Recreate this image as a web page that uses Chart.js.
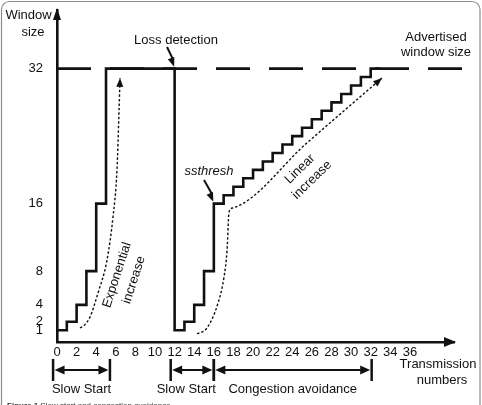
<!DOCTYPE html>
<html>
<head>
<meta charset="utf-8">
<title>Slow start and congestion avoidance</title>
<script src="https://cdn.jsdelivr.net/npm/chart.js@4.4.1/dist/chart.umd.min.js"></script>
<style>
    body { margin: 0; background: #fff; }
    canvas { display: block; }
</style>
</head>
<body>
<canvas id="grafico" width="482" height="405"></canvas>
<script>
// Ventana de congestión (escalones) por número de transmisión
const rondas = [0, 1, 2, 3, 4, 5, 12, 12, 13, 14, 15, 16, 17, 18, 19, 20, 21, 22, 23, 24, 25, 26, 27, 28, 29, 30, 31, 32, 33];
const ventana = [1, 2, 4, 8, 16, 32, 32, 1, 2, 4, 8, 16, 17, 18, 19, 20, 21, 22, 23, 24, 25, 26, 27, 28, 29, 30, 31, 32, 32];

// Ventana anunciada (línea discontinua)
const anunciadaX = [0, 41.6];
const anunciadaY = [32, 32];

// Curvas punteadas "Exponential increase" y "Linear increase"
const expX = [2.35, 2.8, 3.37, 4.18, 5.1, 5.71, 6.12, 6.33, 6.43];
const expY = [1.27, 1.6, 2.57, 5.4, 9.3, 14.4, 20.0, 27.1, 30.9];
const linX = [14.29, 15.31, 16.43, 17.04, 17.35, 17.55, 17.96, 25.5, 33.16];
const linY = [0.56, 1.27, 4.23, 7.31, 10.5, 15.0, 15.5, 23.2, 30.9];

// Etiquetas de los ejes
const xTicks = [0, 2, 4, 6, 8, 10, 12, 14, 16, 18, 20, 22, 24, 26, 28, 30, 32, 34, 36];
const yTicks = [1, 2, 4, 8, 16, 32];

// Fases bajo el eje x
const fases = ['Slow Start', 'Slow Start', 'Congestion avoidance'];
const faseInicio = [-0.4, 11.6, 16];
const faseFin = [5.4, 16, 32.1];

const FUENTE = '"Liberation Sans", Arial, Helvetica, sans-serif';
const TINTA = '#111';

function puntos(xs, ys) {
    return xs.map((x, i) => ({ x: x, y: ys[i] }));
}

// Triángulo relleno con la punta en (x1, y1)
function flecha(ctx, x0, y0, x1, y1, largo, ancho) {
    const ang = Math.atan2(y1 - y0, x1 - x0);
    ctx.save();
    ctx.translate(x1, y1);
    ctx.rotate(ang);
    ctx.beginPath();
    ctx.moveTo(0, 0);
    ctx.lineTo(-largo, -ancho);
    ctx.lineTo(-largo, ancho);
    ctx.closePath();
    ctx.fill();
    ctx.restore();
}

function texto(ctx, str, x, y, font, angulo) {
    ctx.save();
    ctx.font = font;
    ctx.textAlign = 'center';
    ctx.textBaseline = 'middle';
    ctx.translate(x, y);
    if (angulo) ctx.rotate(angulo * Math.PI / 180);
    ctx.fillText(str, 0, 0);
    ctx.restore();
}

function linea(ctx, x0, y0, x1, y1, ancho) {
    ctx.lineWidth = ancho;
    ctx.beginPath();
    ctx.moveTo(x0, y0);
    ctx.lineTo(x1, y1);
    ctx.stroke();
}

const anotaciones = {
    id: 'anotaciones',
    beforeDraw(chart) {
        const ctx = chart.ctx;
        ctx.save();
        ctx.fillStyle = '#fff';
        ctx.fillRect(0, 0, chart.width, chart.height);
        ctx.restore();
    },
    afterDatasetsDraw(chart) {
        const ctx = chart.ctx;
        const xs = chart.scales.x;
        const ys = chart.scales.y;
        const area = chart.chartArea;
        const f13 = '13px ' + FUENTE;

        ctx.save();
        ctx.fillStyle = TINTA;
        ctx.strokeStyle = TINTA;
        ctx.lineCap = 'butt';

        // Flechas de los ejes
        flecha(ctx, area.left, area.bottom, area.left, area.top - 2, 12, 4);
        flecha(ctx, area.left, area.bottom, area.right + 2, area.bottom, 12, 5);

        // Puntas de las curvas punteadas
        [2, 3].forEach(function (i) {
            const pts = chart.getDatasetMeta(i).data;
            const a = pts[pts.length - 2];
            const b = pts[pts.length - 1];
            flecha(ctx, a.x, a.y, b.x, b.y, 9, 3.5);
        });

        // Títulos de los ejes
        texto(ctx, 'Window', 28.5, 15, f13);
        texto(ctx, 'size', 33, 32, f13);
        texto(ctx, 'Transmission', 438, 364, f13);
        texto(ctx, 'numbers', 442, 380, f13);

        // Loss detection
        texto(ctx, 'Loss detection', 176, 40, f13);
        const lx = xs.getPixelForValue(12);
        const ly = ys.getPixelForValue(32);
        linea(ctx, 167, 47, lx - 1.5, ly - 9, 2);
        flecha(ctx, 167, 47, lx - 0.5, ly - 2, 9, 3.5);

        // Advertised window size
        texto(ctx, 'Advertised', 436, 37, f13);
        texto(ctx, 'window size', 436, 52, f13);

        // ssthresh
        texto(ctx, 'ssthresh', 209, 171, 'italic 13px ' + FUENTE);
        const sx = xs.getPixelForValue(16);
        const sy = ys.getPixelForValue(16);
        linea(ctx, 204, 180, sx - 1.5, sy - 9, 2);
        flecha(ctx, 204, 180, sx - 0.5, sy - 2, 9, 3.5);

        // Textos girados
        texto(ctx, 'Exponential', 117, 275, f13, -72);
        texto(ctx, 'increase', 134, 280, f13, -72);
        texto(ctx, 'Linear', 300, 169, f13, -44);
        texto(ctx, 'increase', 312, 180, f13, -44);

        // Fases con flechas dobles
        const desplazar = [0, -6, 0];
        fases.forEach(function (nombre, i) {
            const x0 = xs.getPixelForValue(faseInicio[i]);
            const x1 = xs.getPixelForValue(faseFin[i]);
            linea(ctx, x0, 359, x0, 381, 2.5);
            linea(ctx, x1, 359, x1, 381, 2.5);
            linea(ctx, x0 + 6, 370, x1 - 6, 370, 2);
            flecha(ctx, x1, 370, x0 + 1.5, 370, 10, 4.5);
            flecha(ctx, x0, 370, x1 - 1.5, 370, 10, 4.5);
            texto(ctx, nombre, (x0 + x1) / 2 + desplazar[i], 389, f13);
        });
        ctx.restore();
    },
    afterDraw(chart) {
        const ctx = chart.ctx;
        ctx.save();
        // Marco redondeado de la figura
        ctx.strokeStyle = '#8c8c8c';
        ctx.lineWidth = 1.2;
        ctx.beginPath();
        ctx.roundRect(1.5, 1.5, 478.5, 440, 8);
        ctx.stroke();
        // Pie de figura (cortado abajo)
        ctx.fillStyle = '#333';
        ctx.textBaseline = 'alphabetic';
        ctx.font = 'bold 8px ' + FUENTE;
        ctx.fillText('Figure 1', 7, 408);
        const w = ctx.measureText('Figure 1').width;
        ctx.font = '8px ' + FUENTE;
        ctx.fillText(' Slow start and congestion avoidance.', 7 + w, 408);
        ctx.restore();
    }
};

const ctx = document.getElementById('grafico').getContext('2d');
const grafico = new Chart(ctx, {
    type: 'line',
    data: {
        datasets: [
            {
                label: 'Window size',
                data: puntos(rondas, ventana),
                stepped: 'before',
                borderColor: TINTA,
                borderWidth: 2.6,
                pointRadius: 0,
                fill: false,
                clip: false
            },
            {
                label: 'Advertised window size',
                data: puntos(anunciadaX, anunciadaY),
                borderColor: TINTA,
                borderWidth: 2.6,
                borderDash: [34, 19],
                pointRadius: 0,
                fill: false,
                clip: false
            },
            {
                label: 'Exponential increase',
                data: puntos(expX, expY),
                borderColor: TINTA,
                borderWidth: 1.4,
                borderDash: [2.5, 2],
                cubicInterpolationMode: 'monotone',
                pointRadius: 0,
                fill: false,
                clip: false
            },
            {
                label: 'Linear increase',
                data: puntos(linX, linY),
                borderColor: TINTA,
                borderWidth: 1.4,
                borderDash: [2.5, 2],
                cubicInterpolationMode: 'monotone',
                pointRadius: 0,
                fill: false,
                clip: false
            }
        ]
    },
    options: {
        responsive: false,
        animation: false,
        layout: { padding: { top: 10, right: 28, left: 0, bottom: 0 } },
        plugins: {
            legend: { display: false },
            tooltip: { enabled: false },
            title: { display: false }
        },
        scales: {
            x: {
                type: 'linear',
                min: 0,
                max: 40.5,
                afterBuildTicks: function (scale) {
                    scale.ticks = xTicks.map(v => ({ value: v }));
                },
                afterFit: function (scale) {
                    scale.height = 63;
                    scale.paddingLeft = 0;
                    scale.paddingRight = 0;
                },
                grid: { display: false, drawTicks: false },
                border: { display: true, color: TINTA, width: 2.6 },
                ticks: {
                    color: TINTA,
                    padding: 3,
                    maxRotation: 0,
                    autoSkip: false,
                    font: { family: FUENTE, size: 13 }
                }
            },
            y: {
                type: 'linear',
                min: -0.4,
                max: 38.95,
                afterBuildTicks: function (scale) {
                    scale.ticks = yTicks.map(v => ({ value: v }));
                },
                afterFit: function (scale) {
                    // ancho fijo y sin relleno extra arriba/abajo
                    scale.width = 57;
                    scale.paddingTop = 0;
                    scale.paddingBottom = 0;
                },
                grid: { display: false, drawTicks: false },
                border: { display: true, color: TINTA, width: 2.6 },
                ticks: {
                    color: TINTA,
                    padding: 14,
                    autoSkip: false,
                    font: { family: FUENTE, size: 13 }
                }
            }
        }
    },
    plugins: [anotaciones]
});
</script>
</body>
</html>
